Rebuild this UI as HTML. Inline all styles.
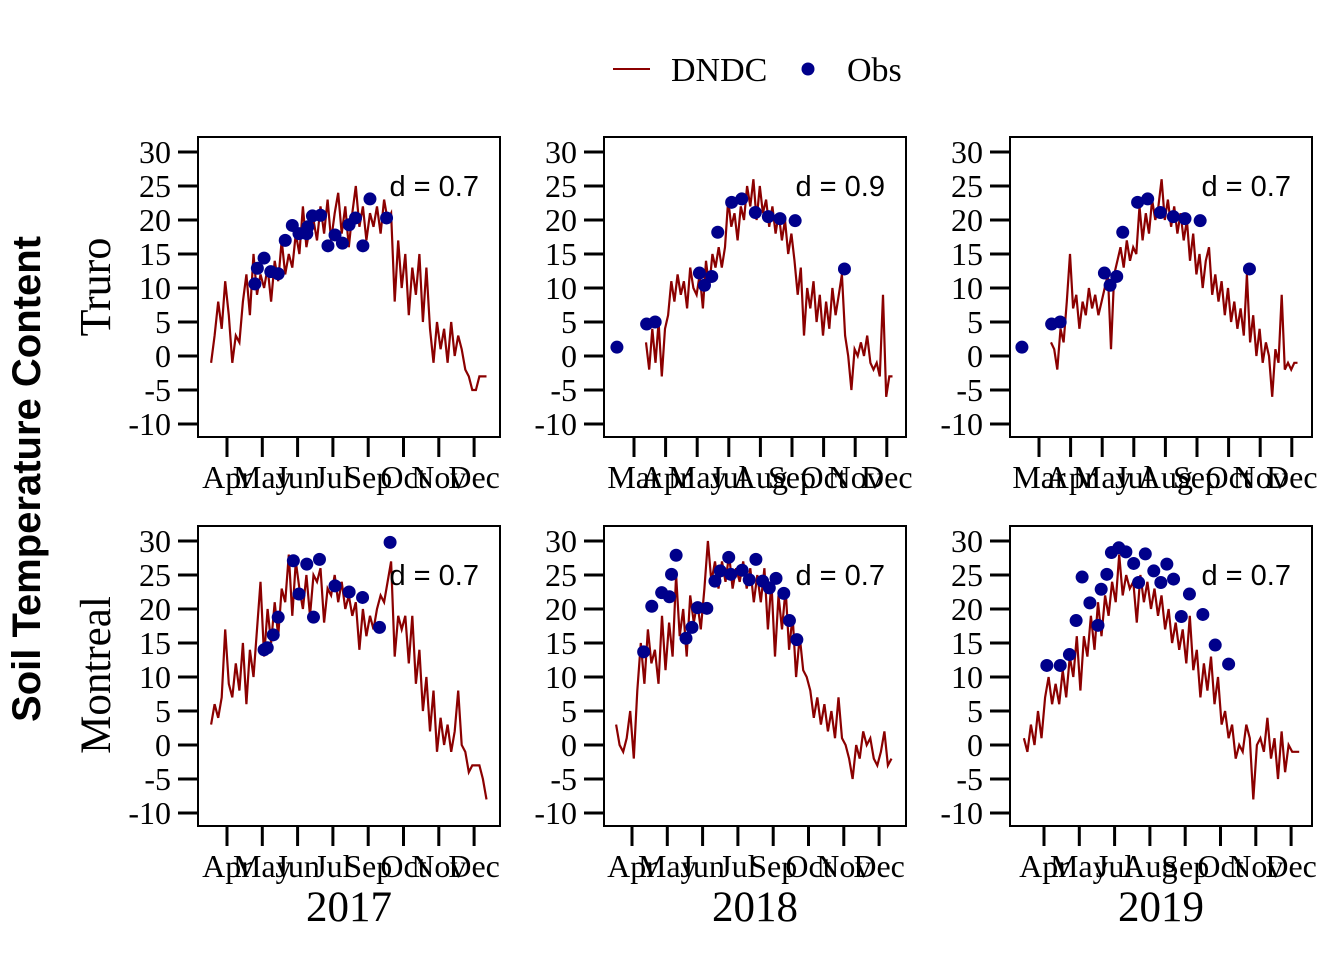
<!DOCTYPE html>
<html><head><meta charset="utf-8">
<style>
html,body{margin:0;padding:0;background:#fff;}
svg{display:block;}
</style></head>
<body>
<svg id="chart" width="1344" height="960" viewBox="0 0 1344 960" xmlns="http://www.w3.org/2000/svg">
  <g>
    <line x1="613" y1="69" x2="650" y2="69" stroke="#8b0000" stroke-width="2"/>
    <text x="671" y="81" font-family="Liberation Serif, serif" font-size="34">DNDC</text>
    <circle cx="808" cy="69" r="6.5" fill="#00008b"/>
    <text x="847" y="81" font-family="Liberation Serif, serif" font-size="34">Obs</text>
  </g>
  <text transform="translate(40,479) rotate(-90)" text-anchor="middle" font-family="Liberation Sans, sans-serif" font-weight="bold" font-size="40">Soil Temperature Content</text>
  <text transform="translate(110,287) rotate(-90)" text-anchor="middle" font-family="Liberation Serif, serif" font-size="44">Truro</text>
  <text transform="translate(110,675) rotate(-90)" text-anchor="middle" font-family="Liberation Serif, serif" font-size="43">Montreal</text>
  <text x="349" y="921" text-anchor="middle" font-family="Liberation Serif, serif" font-size="43">2017</text>
  <text x="755" y="921" text-anchor="middle" font-family="Liberation Serif, serif" font-size="43">2018</text>
  <text x="1161" y="921" text-anchor="middle" font-family="Liberation Serif, serif" font-size="43">2019</text>
</svg>
<script>
// ---- data (x in month-tick units, y in °C) ----
const yTicks = [30,25,20,15,10,5,0,-5,-10];
const labels1 = ['Apr','May','Jun','Jul','Sep','Oct','Nov','Dec'];
const labels2 = ['Mar','Apr','May','Jul','Aug','Sep','Oct','Nov','Dec'];
const labels6 = ['Apr','May','Jul','Aug','Sep','Oct','Nov','Dec'];
const dIndex = ['d = 0.7','d = 0.9','d = 0.7','d = 0.7','d = 0.7','d = 0.7'];

const simStart = [-0.45, 0.38, 0.38, -0.45, -0.45, -0.57];
const simStep = 0.1;
const sim1 = [-1,3,8,4,11,6,-1,3,2,8,12,6,15,9,12,10,13,8,14,11,17,12,15,13,18,15,22,16,19,20,17,22,18,23,17,21,24,18,22,16,21,25,19,22,17,21,19,22,18,23,20,21,8,17,10,15,6,13,9,15,5,13,4,-1,5,1,4,-1,5,0,3,1,-2,-3,-5,-5,-3,-3,-3];
const sim2 = [2,-2,4,-1,5,-3,4,6,11,8,12,9,11,7,13,10,9,12,7,14,10,15,13,16,13,16,23,19,21,17,22,20,25,22,26,20,25,21,23,19,22,18,21,17,20,15,18,14,9,13,3,10,7,11,5,9,3,8,4,10,6,9,12,3,0,-5,1,0,2,0,3,-1,-2,-1,-3,9,-6,-3,-3];
const sim3 = [2,1,-2,4,2,8,15,7,9,4,8,6,10,7,9,6,8,10,12,1,12,14,16,13,17,14,16,15,22,17,21,18,23,20,22,26,20,23,19,22,18,21,17,20,14,18,12,15,10,14,16,9,12,8,11,6,10,5,8,4,7,3,12,2,6,0,4,-1,2,0,-6,1,-1,9,-2,-1,-2,-1,-1];
const sim4 = [3,6,4,7,17,9,7,12,8,15,6,14,10,17,24,13,20,15,21,16,23,21,28,19,27,23,20,25,19,25,24,26,18,23,22,25,21,24,20,22,19,21,14,20,16,19,17,20,22,21,24,27,13,19,17,19,12,19,9,14,5,10,2,8,-1,4,0,3,-1,2,8,0,-1,-4,-3,-3,-3,-5,-8];
const sim5 = [3,0,-1,1,5,-2,8,15,9,17,12,14,9,19,11,18,13,25,16,20,13,22,18,21,17,23,30,24,27,23,27,24,28,23,26,24,27,23,26,21,25,21,26,17,24,13,22,17,23,14,19,10,16,11,10,8,4,7,3,6,2,5,1,7,1,0,-2,-5,0,-2,2,0,1,-2,-3,-1,2,-3,-2];
const sim6 = [1,-1,3,0,5,1,7,10,6,9,6,11,7,13,10,16,8,16,13,19,14,21,16,22,19,24,21,28,22,25,23,24,18,25,21,24,20,23,19,22,17,20,15,18,14,17,12,19,11,14,7,12,8,13,6,10,3,5,1,3,-2,0,-1,3,1,-8,0,1,-1,4,-2,1,-5,2,-4,0,-1,-1,-1];

const obsX1 = [0.79,0.86,1.05,1.24,1.45,1.65,1.85,2.04,2.26,2.29,2.42,2.65,2.86,3.06,3.27,3.46,3.64,3.85,4.05,4.52];
const obsY1 = [10.6,12.9,14.4,12.4,12.1,17.0,19.2,18.0,18.0,19.0,20.6,20.7,16.2,17.8,16.6,19.3,20.3,16.2,23.1,20.3];
const obsX2 = [-0.54,0.40,0.67,2.07,2.23,2.46,2.65,3.09,3.41,3.84,4.25,4.62,5.10,6.66];
const obsY2 = [1.3,4.7,5.0,12.2,10.4,11.7,18.2,22.6,23.1,21.1,20.5,20.2,19.9,12.8];
const obsX3 = [-0.54,0.40,0.67,2.07,2.25,2.46,2.65,3.12,3.44,3.84,4.25,4.62,5.10,6.66];
const obsY3 = [1.3,4.7,5.0,12.2,10.4,11.7,18.2,22.6,23.1,21.1,20.5,20.2,19.9,12.8];
const obsX4 = [1.05,1.14,1.31,1.45,1.88,2.04,2.26,2.45,2.62,3.06,3.46,3.84,4.32,4.62];
const obsY4 = [14.0,14.3,16.2,18.8,27.1,22.2,26.6,18.8,27.3,23.4,22.5,21.7,17.3,29.8];
const obsX5 = [0.33,0.56,0.84,1.06,1.12,1.25,1.53,1.70,1.86,2.12,2.35,2.50,2.74,2.80,3.12,3.32,3.51,3.70,3.89,4.08,4.30,4.46,4.67];
const obsY5 = [13.7,20.4,22.4,21.8,25.1,27.9,15.7,17.3,20.2,20.1,24.1,25.6,27.6,25.1,25.7,24.3,27.3,24.1,23.1,24.5,22.3,18.3,15.5];
const obsX6 = [0.08,0.46,0.72,0.91,1.08,1.30,1.53,1.62,1.78,1.91,2.12,2.32,2.54,2.68,2.87,3.11,3.31,3.48,3.67,3.89,4.12,4.50,4.85,5.23];
const obsY6 = [11.7,11.7,13.3,18.3,24.7,20.9,17.6,22.9,25.1,28.3,29.0,28.4,26.7,23.9,28.1,25.6,23.9,26.6,24.4,18.9,22.2,19.2,14.7,11.9];

// ---- layout ----
const panels = [
  {name:'truro-2017', left:198, top:137, t0:227, dt:35.3, labels:labels1, sim:sim1, ox:obsX1, oy:obsY1},
  {name:'truro-2018', left:604, top:137, t0:634, dt:31.6, labels:labels2, sim:sim2, ox:obsX2, oy:obsY2},
  {name:'truro-2019', left:1010, top:137, t0:1039, dt:31.6, labels:labels2, sim:sim3, ox:obsX3, oy:obsY3},
  {name:'montreal-2017', left:198, top:526, t0:227, dt:35.3, labels:labels1, sim:sim4, ox:obsX4, oy:obsY4},
  {name:'montreal-2018', left:604, top:526, t0:632, dt:35.3, labels:labels1, sim:sim5, ox:obsX5, oy:obsY5},
  {name:'montreal-2019', left:1010, top:526, t0:1044, dt:35.3, labels:labels6, sim:sim6, ox:obsX6, oy:obsY6}
];
const W = 302, H = 300;
const NS = 'http://www.w3.org/2000/svg';
const svg = document.getElementById('chart');
function mk(tag, attrs, parent){
  const e = document.createElementNS(NS, tag);
  for (const k in attrs) e.setAttribute(k, attrs[k]);
  parent.appendChild(e);
  return e;
}
panels.forEach((p, pi) => {
  const g = mk('g', {}, svg);
  
  
  const yScale = v => p.top + 15 + (30 - v) * 6.8;
  const xScale = m => p.t0 + m * p.dt;
  const box = mk('rect', {x:p.left, y:p.top, width:W, height:H, fill:'none', stroke:'#000', 'stroke-width':2}, g);
  
  
  yTicks.forEach(v => {
    const y = yScale(v);
    const t = mk('line', {x1:p.left - 20, x2:p.left, y1:y, y2:y, stroke:'#000', 'stroke-width':3}, g);
    
    
    const l = mk('text', {x:p.left - 27, y:y + 11, 'text-anchor':'end', 'font-family':'Liberation Serif, serif', 'font-size':32}, g);
    l.textContent = v;
    
    
  });
  p.labels.forEach((lab, i) => {
    const x = xScale(i);
    const t = mk('line', {x1:x, x2:x, y1:p.top + H, y2:p.top + H + 20, stroke:'#000', 'stroke-width':3}, g);
    
    
    const l = mk('text', {x:x, y:p.top + H + 51, 'text-anchor':'middle', 'font-family':'Liberation Serif, serif', 'font-size':32}, g);
    l.textContent = lab;
    
    
  });
  const pts = p.sim.map((v, i) => xScale(simStart[pi] + i * simStep).toFixed(1) + ',' + yScale(v).toFixed(1)).join(' ');
  const line = mk('polyline', {points:pts, fill:'none', stroke:'#8b0000', 'stroke-width':2.2, 'stroke-linejoin':'miter'}, g);
  
  
  p.ox.forEach((m, i) => {
    const c = mk('circle', {cx:xScale(m), cy:yScale(p.oy[i]), r:6.5, fill:'#00008b'}, g);
    
    
  });
  const dl = mk('text', {x:p.left + W - 21, y:p.top + 59, 'text-anchor':'end', 'font-family':'Liberation Sans, sans-serif', 'font-size':29}, g);
  dl.textContent = dIndex[pi];
  
  
});
</script>
</body></html>
